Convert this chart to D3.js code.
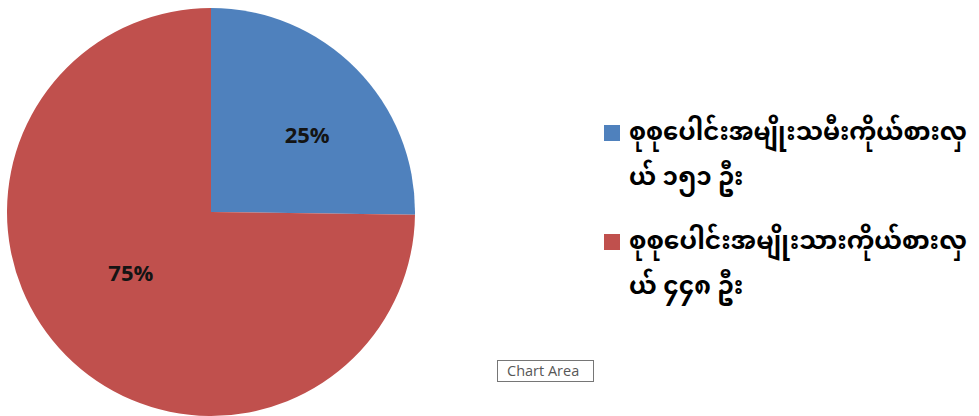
<!DOCTYPE html>
<html><head><meta charset="utf-8">
<script src="https://cdn.jsdelivr.net/npm/d3@7"></script>
<style>
html,body{margin:0;padding:0;background:#fff;}
svg{display:block;}
</style></head>
<body><svg id="c" width="979" height="416"></svg>
<script>
const categories = ["စုစုပေါင်းအမျိုးသမီးကိုယ်စားလှယ် ၁၅၁ ဦး", "စုစုပေါင်းအမျိုးသားကိုယ်စားလှယ် ၄၄၈ ဦး"];
const legendLines = [["စုစုပေါင်းအမျိုးသမီးကိုယ်စားလှ", "ယ် ၁၅၁ ဦး"], ["စုစုပေါင်းအမျိုးသားကိုယ်စားလှ", "ယ် ၄၄၈ ဦး"]];
const values = [151, 448];
const percentLabels = ["25%", "75%"];
const colors = ["#4F81BD", "#C0504D"];

const svg = d3.select("#c");
const cx = 211, cy = 212, r = 204;
const pie = d3.pie().sort(null).value(d => d)(values);
const arc = d3.arc().innerRadius(0).outerRadius(r);
const g = svg.append("g").attr("transform", `translate(${cx},${cy})`);
g.selectAll("path").data(pie).join("path")
  .attr("d", arc).attr("fill", (d, i) => colors[i]);
// label placement (Excel best-fit): radius fraction and small nudges per slice
const labelFrac = [0.6, 0.49];
const nudge = [[9, 8], [-9, -10]];
g.selectAll("text").data(pie).join("text")
  .attr("transform", (d, i) => {
    const a = d3.arc().innerRadius(r * labelFrac[i]).outerRadius(r * labelFrac[i]);
    const [x, y] = a.centroid(d);
    return `translate(${x + nudge[i][0]},${y + nudge[i][1]})`;
  })
  .attr("text-anchor", "middle").attr("dominant-baseline", "central")
  .style("font-family", "'Open Sans','DejaVu Sans',sans-serif")
  .style("font-weight", "bold").style("font-size", "22px").attr("fill", "#141414")
  .text((d, i) => percentLabels[i]);

const leg = svg.append("g");
const legY = [133, 242];
const fam = "'Noto Sans Myanmar','Myanmar Text','Padauk','Noto Sans',sans-serif";
categories.forEach((c, i) => {
  leg.append("rect").attr("x", 604).attr("y", legY[i] - 8).attr("width", 16).attr("height", 16)
    .attr("fill", colors[i]);
  const t = leg.append("text")
    .style("font-family", fam).style("font-weight", "bold")
    .style("font-size", "22px").attr("fill", "#000");
  legendLines[i].forEach((ln, j) => {
    t.append("tspan").attr("x", 629).attr("y", legY[i] + 7 + j * 45).text(ln);
  });
  // fit first line to the legend width seen in the reference (~338px)
  const w = t.select("tspan").node().getComputedTextLength();
  const fs = Math.max(18, Math.min(28, 22 * 338 / w));
  t.style("font-size", fs + "px");
});

const tip = svg.append("g").attr("transform", "translate(497,360)");
tip.append("rect").attr("x", 0.5).attr("y", 0.5).attr("width", 96).attr("height", 21)
  .attr("fill", "#fff").attr("stroke", "#767676");
tip.append("text").attr("x", 10).attr("y", 16)
  .style("font-family", "'Open Sans','DejaVu Sans',sans-serif").style("font-size", "14.5px")
  .attr("fill", "#575757").text("Chart Area");
</script></body></html>
